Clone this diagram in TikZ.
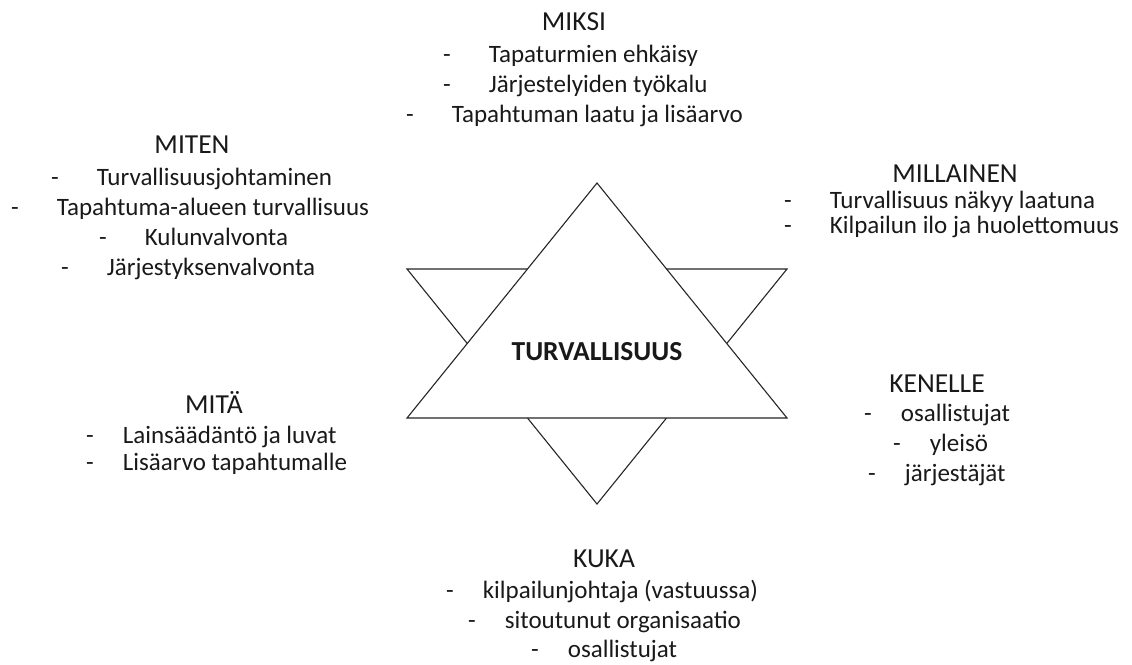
\documentclass[tikz,border=0pt]{standalone}
\usepackage{fontspec}
\setmainfont{Carlito}
\newcommand{\viiva}[2]{-\hspace{#1}#2}
\tikzset{
  otsikko/.style={anchor=base,inner sep=0pt,font=\fontsize{27.5}{33}\selectfont,text=black!90},
  kohta/.style={anchor=base west,inner sep=0pt,font=\fontsize{25}{30}\selectfont,text=black!90},
  kolmio/.style={draw=black!85,line width=1.1pt,fill=white,line join=miter},
}
\begin{document}
\begin{tikzpicture}[x=1pt,y=-1pt]
    \useasboundingbox (0,0) rectangle (1132,664);
    %kolmio alas
    \draw[kolmio](407,269)--(787,269)--(597,504)--cycle;
    %kolmio ylos
    \draw[kolmio](597,183)--(787,418)--(407,418)--cycle;
    \node[anchor=center,inner sep=0pt,font=\fontsize{27.5}{33}\selectfont\bfseries,text=black!90] (turva) at (597,352) {TURVALLISUUS};

    %MIKSI
    \node[otsikko] (miksi) at (574,30) {MIKSI};
    \node[kohta] (miksi1) at (443,62) {\viiva{38pt}{Tapaturmien ehkäisy}};
    \node[kohta] (miksi2) at (443,92) {\viiva{38pt}{Järjestelyiden työkalu}};
    \node[kohta] (miksi3) at (406,122) {\viiva{38pt}{Tapahtuman laatu ja lisäarvo}};

    %MITEN
    \node[otsikko] (miten) at (192,153) {MITEN};
    \node[kohta] (miten1) at (51,185) {\viiva{38pt}{Turvallisuusjohtaminen}};
    \node[kohta] (miten2) at (11,215) {\viiva{38pt}{Tapahtuma-alueen turvallisuus}};
    \node[kohta] (miten3) at (99,245) {\viiva{38pt}{Kulunvalvonta}};
    \node[kohta] (miten4) at (61,275) {\viiva{38pt}{Järjestyksenvalvonta}};

    %MILLAINEN
    \node[otsikko] (millainen) at (955,182) {MILLAINEN};
    \node[kohta] (millainen1) at (784,208) {\viiva{38pt}{Turvallisuus näkyy laatuna}};
    \node[kohta] (millainen2) at (784,233) {\viiva{38pt}{Kilpailun ilo ja huolettomuus}};

    %MITÄ
    \node[otsikko] (mita) at (214,413) {MITÄ};
    \node[kohta] (mita1) at (86,443) {\viiva{29pt}{Lainsäädäntö ja luvat}};
    \node[kohta] (mita2) at (86,470) {\viiva{29pt}{Lisäarvo tapahtumalle}};

    %KENELLE
    \node[otsikko] (kenelle) at (937,392) {KENELLE};
    \node[kohta] (kenelle1) at (864,421) {\viiva{29pt}{osallistujat}};
    \node[kohta] (kenelle2) at (893,451) {\viiva{29pt}{yleisö}};
    \node[kohta] (kenelle3) at (868,481) {\viiva{29pt}{järjestäjät}};

    %KUKA
    \node[otsikko] (kuka) at (604,567) {KUKA};
    \node[kohta] (kuka1) at (446,598) {\viiva{29pt}{kilpailunjohtaja (vastuussa)}};
    \node[kohta] (kuka2) at (468,628) {\viiva{29pt}{sitoutunut organisaatio}};
    \node[kohta] (kuka3) at (531,657) {\viiva{29pt}{osallistujat}};
\end{tikzpicture}
\end{document}
